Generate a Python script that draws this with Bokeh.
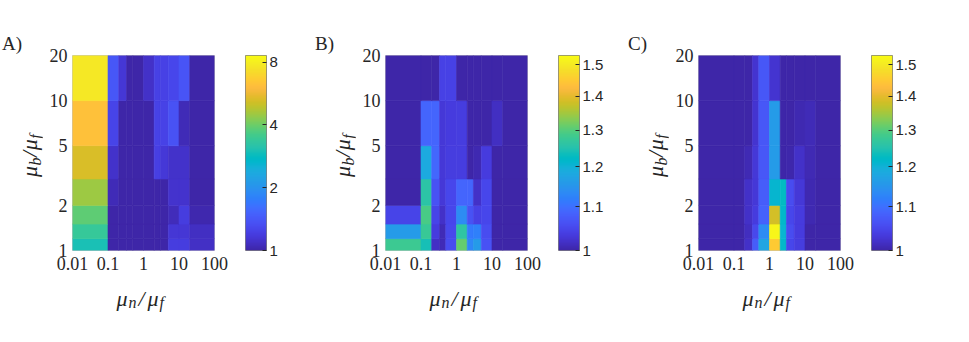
import numpy as np
from bokeh.plotting import figure
from bokeh.layouts import row, column
from bokeh.models import (LogColorMapper, FixedTicker, PrintfTickFormatter,
                          Range1d, ColumnDataSource, Div)
from bokeh.transform import transform
from bokeh.core.properties import value
from bokeh.embed import file_html
from bokeh.resources import INLINE

# ---------------- data ----------------
x_edges = [0.01, 0.1, 0.2, 1 / 3, 0.5, 1, 2, 3, 5, 10, 20, 100]   # mu_n/mu_f cell edges
y_edges = [1, 1.2, 1.5, 2, 3, 5, 10, 20]                          # mu_b/mu_f cell edges
x_ticks = [0.01, 0.1, 1, 10, 100]
y_ticks = [1, 2, 5, 10, 20]
cbar_ticks_A = [1, 2, 4, 8]
cbar_ticks_BC = [1, 1.1, 1.2, 1.3, 1.4, 1.5]
cbar_range_A = (1, 8.6)
cbar_range_BC = (1, 1.53)
panel_labels = ["A)", "B)", "C)"]

# rows: bottom (1-1.2) to top (10-20); columns: left (0.01-0.1) to right (20-100)
vals_A = [
    [3.0, 1.0, 1.0, 1.0, 1.0, 1.0, 1.0, 1.0, 1.20, 1.20, 1.09],
    [3.4, 1.0, 1.0, 1.0, 1.0, 1.0, 1.0, 1.0, 1.15, 1.15, 1.08],
    [3.85, 1.0, 1.0, 1.0, 1.0, 1.0, 1.0, 1.0, 1.06, 1.20, 1.02],
    [4.5, 1.045, 1.0, 1.0, 1.0, 1.0, 1.0, 1.0, 1.12, 1.12, 1.0],
    [5.25, 1.11, 1.0, 1.0, 1.0, 1.0, 1.22, 1.16, 1.11, 1.11, 1.0],
    [6.2, 1.25, 1.0, 1.0, 1.0, 1.0, 1.24, 1.24, 1.36, 1.045, 1.0],
    [7.7, 1.41, 1.145, 1.0, 1.0, 1.10, 1.23, 1.23, 1.27, 1.38, 1.0],
]
vals_B = [
    [1.28, 1.24, 1.018, 1.01, 1.055, 1.31, 1.13, 1.16, 1.062, 1.0, 1.0],
    [1.16, 1.275, 1.034, 1.01, 1.05, 1.262, 1.114, 1.12, 1.055, 1.0, 1.0],
    [1.045, 1.29, 1.045, 1.02, 1.048, 1.137, 1.062, 1.041, 1.048, 1.0, 1.0],
    [1.0, 1.258, 1.062, 1.03, 1.048, 1.087, 1.087, 1.02, 1.048, 1.0, 1.0],
    [1.0, 1.185, 1.09, 1.03, 1.037, 1.037, 1.0, 1.005, 1.034, 1.0, 1.0],
    [1.0, 1.087, 1.087, 1.03, 1.034, 1.037, 1.0, 1.0, 1.0, 1.016, 1.0],
    [1.0, 1.0, 1.0, 1.041, 1.041, 1.0, 1.0, 1.0, 1.0, 1.0, 1.0],
]
vals_C = [
    [1.0, 1.0, 1.02, 1.077, 1.176, 1.45, 1.215, 1.048, 1.037, 1.0, 1.0],
    [1.0, 1.0, 1.014, 1.05, 1.137, 1.52, 1.208, 1.055, 1.034, 1.0, 1.0],
    [1.0, 1.0, 1.02, 1.034, 1.084, 1.383, 1.215, 1.048, 1.034, 1.005, 1.0],
    [1.0, 1.0, 1.02, 1.03, 1.077, 1.21, 1.225, 1.055, 1.03, 1.005, 1.0],
    [1.0, 1.0, 1.007, 1.03, 1.07, 1.16, 1.0, 1.003, 1.02, 1.008, 1.0],
    [1.0, 1.0, 1.0, 1.024, 1.07, 1.16, 1.0, 1.0, 1.005, 1.01, 1.0],
    [1.0, 1.0, 1.0, 1.024, 1.07, 1.024, 1.0, 1.0, 1.0, 1.0, 1.0],
]

# ---------------- styling: parula colormap ----------------
PARULA64 = [
    (0.2422, 0.1504, 0.6603), (0.2504, 0.1650, 0.7076), (0.2578, 0.1818, 0.7511), (0.2647, 0.1978, 0.7952),
    (0.2706, 0.2147, 0.8364), (0.2751, 0.2342, 0.8710), (0.2783, 0.2559, 0.8991), (0.2803, 0.2782, 0.9221),
    (0.2813, 0.3006, 0.9414), (0.2810, 0.3228, 0.9579), (0.2795, 0.3447, 0.9717), (0.2760, 0.3667, 0.9829),
    (0.2699, 0.3892, 0.9906), (0.2602, 0.4123, 0.9952), (0.2440, 0.4358, 0.9988), (0.2206, 0.4603, 0.9973),
    (0.1963, 0.4847, 0.9892), (0.1834, 0.5074, 0.9798), (0.1786, 0.5289, 0.9682), (0.1764, 0.5499, 0.9520),
    (0.1687, 0.5703, 0.9359), (0.1540, 0.5902, 0.9218), (0.1460, 0.6091, 0.9079), (0.1380, 0.6276, 0.8973),
    (0.1248, 0.6459, 0.8883), (0.1113, 0.6635, 0.8763), (0.0952, 0.6798, 0.8598), (0.0689, 0.6948, 0.8394),
    (0.0297, 0.7082, 0.8163), (0.0036, 0.7203, 0.7917), (0.0067, 0.7312, 0.7660), (0.0433, 0.7411, 0.7394),
    (0.0964, 0.7500, 0.7120), (0.1408, 0.7584, 0.6842), (0.1717, 0.7670, 0.6554), (0.1938, 0.7758, 0.6251),
    (0.2161, 0.7843, 0.5923), (0.2470, 0.7918, 0.5567), (0.2906, 0.7973, 0.5188), (0.3406, 0.8008, 0.4789),
    (0.3909, 0.8029, 0.4354), (0.4456, 0.8024, 0.3909), (0.5044, 0.7993, 0.3480), (0.5616, 0.7942, 0.3045),
    (0.6174, 0.7876, 0.2612), (0.6720, 0.7793, 0.2227), (0.7242, 0.7698, 0.1910), (0.7738, 0.7598, 0.1646),
    (0.8203, 0.7498, 0.1535), (0.8634, 0.7406, 0.1596), (0.9035, 0.7330, 0.1774), (0.9393, 0.7288, 0.2100),
    (0.9728, 0.7298, 0.2394), (0.9956, 0.7434, 0.2371), (0.9970, 0.7659, 0.2199), (0.9952, 0.7893, 0.2028),
    (0.9892, 0.8136, 0.1885), (0.9786, 0.8386, 0.1766), (0.9676, 0.8639, 0.1643), (0.9610, 0.8890, 0.1537),
    (0.9597, 0.9135, 0.1423), (0.9628, 0.9373, 0.1265), (0.9691, 0.9606, 0.1064), (0.9769, 0.9839, 0.0805),
]
arr = np.array(PARULA64)
t0 = np.linspace(0, 1, len(arr))
t1 = np.linspace(0, 1, 256)
rgb = np.stack([np.interp(t1, t0, arr[:, k]) for k in range(3)], axis=1)
rgb255 = np.round(rgb * 255).astype(int)
PALETTE = ["#%02x%02x%02x" % tuple(c) for c in rgb255]

SERIF = "Liberation Serif"
SANS = "Liberation Sans"
TXT = "#262626"

# layout (pixels, page coordinates from top-left)
H_TOT = 330          # full height of a panel group
TOP = 55             # frame top
FW, FH = 142, 195    # heat-map frame size
BOT = H_TOT - TOP - FH
H_HEAT = 280         # heat-map figure height (x tick labels below frame)
H_XL = H_TOT - H_HEAT
W_YL = 42            # y-label strip width
HL, HR = 30, 20      # heat-map figure left / right borders
CB_L, CB_W, CB_R = 11, 21, 47

# x-label pieces: (text, font size, advance position, subscript drop)
XLABEL = [("μ", 22, 0, 0), ("n", 16, 12, 4), ("/", 22, 22, 0), ("μ", 22, 31, 0), ("f", 16, 43, 4)]


def heat_panel(vals, crange):
    mapper = LogColorMapper(palette=PALETTE, low=crange[0], high=crange[1])
    L, R, B, T, V = [], [], [], [], []
    for i in range(len(y_edges) - 1):
        for j in range(len(x_edges) - 1):
            L.append(x_edges[j]); R.append(x_edges[j + 1])
            B.append(y_edges[i]); T.append(y_edges[i + 1])
            V.append(vals[i][j])
    src = ColumnDataSource(dict(left=L, right=R, bottom=B, top=T, v=V))
    p = figure(width=HL + FW + HR, height=H_HEAT, x_axis_type="log", y_axis_type="log",
               x_range=Range1d(x_ticks[0], x_ticks[-1]), y_range=Range1d(y_ticks[0], y_ticks[-1]),
               output_backend="svg", toolbar_location=None,
               min_border_left=HL, min_border_right=HR,
               min_border_top=TOP, min_border_bottom=H_HEAT - TOP - FH)
    p.quad(left="left", right="right", bottom="bottom", top="top", source=src,
           fill_color=transform("v", mapper), line_color=transform("v", mapper), line_width=0.6)
    p.grid.visible = False
    p.outline_line_color = "#c4c4c4"
    for ax, ticks in ((p.xaxis, x_ticks), (p.yaxis, y_ticks)):
        ax.ticker = FixedTicker(ticks=ticks)
        ax.formatter = PrintfTickFormatter(format="%g")
        ax.major_label_text_font = SERIF
        ax.major_label_text_font_size = "18px"
        ax.major_label_text_color = TXT
        ax.axis_line_color = None
        ax.major_tick_line_color = None
        ax.minor_tick_line_color = None
        ax.major_tick_out = 0
        ax.major_tick_in = 0
    p.xaxis.major_label_standoff = 6
    p.yaxis.major_label_standoff = 5
    return p


def xlabel_fig():
    # frame lines up with the heat-map frame above it (x 0..FW in pixels)
    f = figure(width=HL + FW + HR, height=H_XL, x_range=Range1d(0, FW), y_range=Range1d(0, H_XL),
               x_axis_location=None, y_axis_location=None,
               min_border_left=HL, min_border_right=HR, min_border_top=0, min_border_bottom=0,
               output_backend="svg", toolbar_location=None)
    f.outline_line_color = None
    f.grid.visible = False
    base = H_TOT - 298                       # baseline at page y 298
    x0 = FW / 2 - 27
    src = ColumnDataSource(dict(x=[x0 + pc[2] for pc in XLABEL], y=[base - pc[3] for pc in XLABEL],
                                text=[pc[0] for pc in XLABEL], size=[f"{pc[1]}px" for pc in XLABEL]))
    f.text(x="x", y="y", text="text", source=src,
           text_font=value(SERIF), text_font_style="italic", text_font_size="size",
           text_color=TXT, text_align="left", text_baseline="alphabetic")
    return f


def ylabel_div(label):
    # panel letter and rotated y-axis label  (mu_b / mu_f), as real HTML text
    sub = "font-size:16px;line-height:0;vertical-align:-4px;"
    html = (
        f'<div style="position:relative;width:{W_YL}px;height:{H_TOT}px;margin:0;padding:0;'
        f'font-family:\'{SERIF}\';color:{TXT};">'
        f'<span style="position:absolute;left:2px;top:34px;font-size:19px;line-height:19px;white-space:nowrap;">{label}</span>'
        f'<div style="position:absolute;left:19px;top:177px;transform:rotate(-90deg);transform-origin:0 0;'
        f'white-space:nowrap;font-style:italic;font-size:22px;line-height:22px;letter-spacing:0.5px;">'
        f'μ<span style="{sub}">b</span>/μ<span style="{sub}">f</span></div>'
        f'</div>'
    )
    return Div(text=html, width=W_YL, height=H_TOT, margin=0,
               styles={"overflow": "visible", "padding": "0", "margin": "0"})


def cbar_panel(crange, ticks):
    cb = figure(width=CB_L + CB_W + CB_R, height=H_TOT, y_axis_type="log", y_axis_location="right",
                x_range=Range1d(0, 1), y_range=Range1d(crange[0], crange[1]),
                output_backend="svg", toolbar_location=None,
                min_border_left=CB_L, min_border_right=CB_R,
                min_border_top=TOP, min_border_bottom=BOT)
    img = np.empty((256, 1), dtype=np.uint32)
    view = img.view(dtype=np.uint8).reshape((256, 1, 4))
    for k in range(256):
        view[k, 0, 0] = rgb255[k][0]
        view[k, 0, 1] = rgb255[k][1]
        view[k, 0, 2] = rgb255[k][2]
        view[k, 0, 3] = 255
    cb.image_rgba(image=[img], x=0, y=crange[0], dw=1, dh=crange[1] - crange[0])
    cb.grid.visible = False
    cb.xaxis.visible = False
    cb.outline_line_color = "#808080"
    ax = cb.yaxis
    ax.ticker = FixedTicker(ticks=ticks)
    ax.formatter = PrintfTickFormatter(format="%g")
    ax.major_label_text_font = SANS
    ax.major_label_text_font_size = "15px"
    ax.major_label_text_color = TXT
    ax.axis_line_color = None
    ax.major_tick_line_color = TXT
    ax.minor_tick_line_color = None
    ax.major_tick_in = 4
    ax.major_tick_out = 0
    ax.major_label_standoff = 3
    return cb


def group(vals, crange, ticks, label):
    return row(ylabel_div(label), column(heat_panel(vals, crange), xlabel_fig()), cbar_panel(crange, ticks))


layout = row(group(vals_A, cbar_range_A, cbar_ticks_A, panel_labels[0]),
             group(vals_B, cbar_range_BC, cbar_ticks_BC, panel_labels[1]),
             group(vals_C, cbar_range_BC, cbar_ticks_BC, panel_labels[2]))
open("out.html", "w").write(file_html(layout, INLINE))
